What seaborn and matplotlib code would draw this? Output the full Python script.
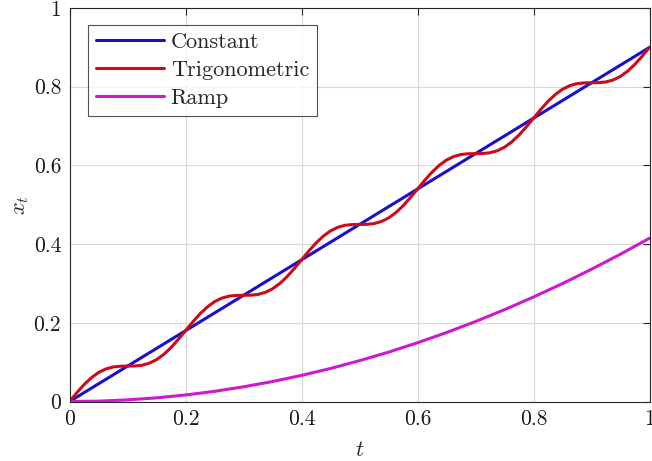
#!/usr/bin/env python3

import numpy as np
import pandas as pd
import seaborn as sns
import matplotlib
matplotlib.use("Agg")
import matplotlib.pyplot as plt

# values
t_const = [0.0, 1.0]
x_const = [0.0, 0.9]

t_trig = [round(0.0125 * k, 4) for k in range(81)]
x_trig = [
    0.0, 0.0222, 0.0428, 0.0602, 0.0737, 0.0827, 0.0878, 0.0897, 0.09,
    0.0903, 0.0922, 0.0973, 0.1064, 0.1198, 0.1372, 0.1578, 0.18,
    0.2022, 0.2228, 0.2402, 0.2537, 0.2627, 0.2678, 0.2697, 0.27,
    0.2703, 0.2722, 0.2773, 0.2864, 0.2998, 0.3172, 0.3378, 0.36,
    0.3822, 0.4028, 0.4202, 0.4337, 0.4427, 0.4478, 0.4497, 0.45,
    0.4503, 0.4522, 0.4573, 0.4664, 0.4798, 0.4972, 0.5178, 0.54,
    0.5622, 0.5828, 0.6002, 0.6137, 0.6227, 0.6278, 0.6297, 0.63,
    0.6303, 0.6322, 0.6373, 0.6464, 0.6598, 0.6772, 0.6978, 0.72,
    0.7422, 0.7628, 0.7802, 0.7937, 0.8027, 0.8078, 0.8097, 0.81,
    0.8103, 0.8122, 0.8173, 0.8264, 0.8398, 0.8572, 0.8778, 0.90,
]

t_ramp = [0.0, 0.05, 0.1, 0.15, 0.2, 0.25, 0.3, 0.35, 0.4, 0.45, 0.5,
          0.55, 0.6, 0.65, 0.7, 0.75, 0.8, 0.85, 0.9, 0.95, 1.0]
x_ramp = [0.0, 0.0010, 0.0042, 0.0093, 0.0166, 0.0259, 0.0374, 0.0508,
          0.0664, 0.0840, 0.1038, 0.1255, 0.1494, 0.1753, 0.2034, 0.2334,
          0.2656, 0.2998, 0.3362, 0.3745, 0.415]

series = ["Constant", "Trigonometric", "Ramp"]
colors = ["#1a0fcc", "#cc0a1a", "#cc1acc"]
ticks = [0, 0.2, 0.4, 0.6, 0.8, 1]
tick_labels = ["0", "0.2", "0.4", "0.6", "0.8", "1"]


def main():
    sns.set_style("white")
    plt.rcParams["font.family"] = ["cmr10", "DejaVu Serif"]
    plt.rcParams["mathtext.fontset"] = "cm"
    plt.rcParams["axes.formatter.use_mathtext"] = True

    df = pd.concat([
        pd.DataFrame({"t": t_const, "x": x_const, "series": series[0]}),
        pd.DataFrame({"t": t_trig, "x": x_trig, "series": series[1]}),
        pd.DataFrame({"t": t_ramp, "x": x_ramp, "series": series[2]}),
    ], ignore_index=True)

    fig = plt.figure(figsize=(6.52, 4.61), dpi=100)
    ax = fig.add_axes([0.1066, 0.129, 0.8896, 0.8536])
    sns.lineplot(data=df, x="t", y="x", hue="series", hue_order=series,
                 palette=colors, linewidth=2.2, sort=False, ax=ax)

    ax.set_xlim(0, 1)
    ax.set_ylim(0, 1)
    ax.set_xticks(ticks)
    ax.set_yticks(ticks)
    ax.set_xticklabels(tick_labels)
    ax.set_yticklabels(tick_labels)
    ax.grid(True, color="#d9d9d9", linewidth=0.8)
    ax.set_axisbelow(True)
    ax.tick_params(direction="in", length=5, width=0.8, color="#262626",
                   top=True, right=True, labelsize=15.5, pad=6,
                   labelcolor="#1a1a1a")
    for s in ax.spines.values():
        s.set_color("#262626")
        s.set_linewidth(0.8)

    ax.set_xlabel("$t$", fontsize=16, labelpad=8)
    ax.set_ylabel("$x_t$", fontsize=16, labelpad=2)

    leg = ax.legend(loc="upper left", fontsize=16, frameon=True,
                    fancybox=False, handlelength=3.05, handletextpad=0.32,
                    labelspacing=0.37, borderpad=0.35, borderaxespad=0,
                    bbox_to_anchor=(0.032, 0.957))
    leg.get_frame().set_edgecolor("#262626")
    leg.get_frame().set_linewidth(0.8)

    fig.savefig("out.png", dpi=100)
    plt.close(fig)


if __name__ == '__main__':
    main()
